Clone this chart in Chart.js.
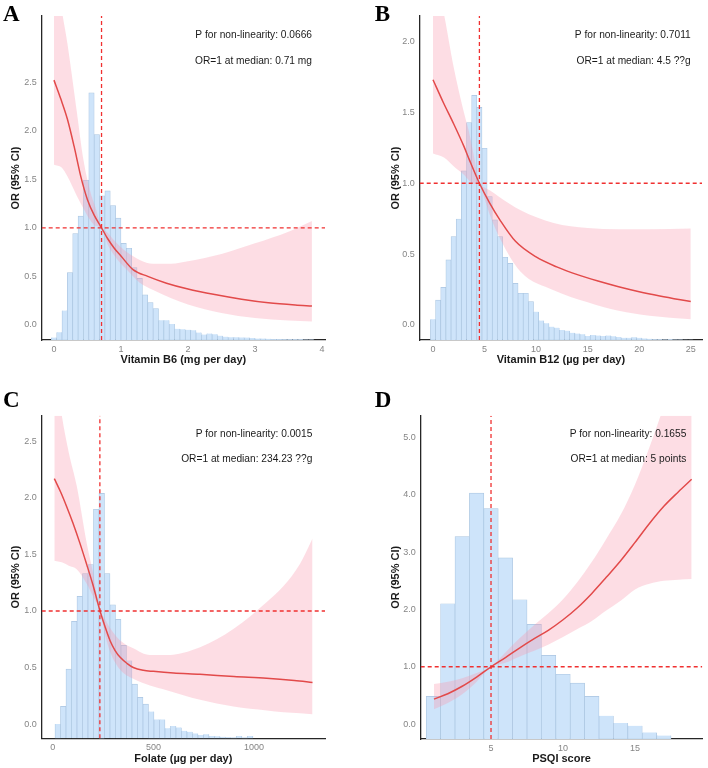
<!DOCTYPE html>
<html><head><meta charset="utf-8">
<script src="https://cdn.jsdelivr.net/npm/chart.js@4.4.0/dist/chart.umd.min.js"></script>
<style>
html,body{margin:0;padding:0;background:#fff;}
#wrap{position:relative;width:708px;height:768px;overflow:hidden;}
canvas{position:absolute;}
</style></head><body>
<div id="wrap">
<canvas id="cA" width="354" height="384" style="left:0;top:0;width:354px;height:384px"></canvas>
<canvas id="cB" width="354" height="384" style="left:354px;top:0;width:354px;height:384px"></canvas>
<canvas id="cC" width="354" height="384" style="left:0;top:384px;width:354px;height:384px"></canvas>
<canvas id="cD" width="354" height="384" style="left:354px;top:384px;width:354px;height:384px"></canvas>
</div>
<script>
// ---------- Panel A: Vitamin B6 ----------
const a_histStart = -0.04, a_histWidth = 0.08;
const a_hist = [-0.13,-0.075,0.148,0.54,0.94,1.12,1.49,2.39,1.96,1.33,1.38,1.23,1.10,0.84,0.79,0.59,0.48,0.31,0.23,0.17,0.05,0.05,0.01,-0.04,-0.045,-0.05,-0.055,-0.077,-0.098,-0.088,-0.095,-0.11,-0.12,-0.125,-0.125,-0.128,-0.13,-0.135,-0.14,-0.14,-0.142,-0.145,-0.145,-0.147,-0.147,-0.148,-0.148,-0.149,-0.149];
const a_curveX = [0,0.1,0.2,0.3,0.4,0.5,0.6,0.71,0.8,0.9,1.0,1.18,1.4,1.68,2.0,2.4,2.8,3.2,3.6,3.85];
const a_curveY = [2.52,2.33,2.12,1.84,1.53,1.29,1.13,1.0,0.89,0.79,0.71,0.57,0.5,0.43,0.37,0.313,0.265,0.228,0.205,0.195];
const a_bandX = [0,0.115,0.2,0.34,0.44,0.54,0.62,0.71,0.8,0.885,1.0,1.085,1.28,1.48,1.75,2.0,2.5,3.0,3.5,3.85];
const a_upper = [3.85,3.25,2.9,2.2,1.7,1.38,1.21,1.0,0.95,0.88,0.8,0.75,0.67,0.63,0.63,0.655,0.73,0.84,0.96,1.07];
const a_lower = [1.65,1.62,1.53,1.33,1.2,1.08,1.02,1.0,0.83,0.73,0.63,0.57,0.435,0.36,0.275,0.21,0.123,0.071,0.046,0.036];
const a_xTicks = [0,1,2,3,4];
const a_yTicks = [0,0.5,1,1.5,2,2.5];

// ---------- Panel B: Vitamin B12 ----------
const b_histStart = -0.25, b_histWidth = 0.5;
const b_hist = [0.04,0.176,0.266,0.459,0.624,0.748,1.087,1.428,1.62,1.536,1.247,0.906,0.741,0.624,0.478,0.435,0.294,0.224,0.224,0.165,0.094,0.031,0.012,-0.012,-0.019,-0.035,-0.04,-0.055,-0.06,-0.065,-0.078,-0.07,-0.074,-0.078,-0.074,-0.08,-0.085,-0.09,-0.09,-0.087,-0.09,-0.095,-0.098,-0.1,-0.1,-0.102,-0.1,-0.103,-0.103,-0.104,-0.104];
const b_curveX = [0,1,2,3,3.5,4.5,5.5,6.5,8,10,12,14,16,18,20,22,25];
const b_curveY = [1.73,1.57,1.42,1.26,1.17,1.0,0.86,0.74,0.59,0.48,0.41,0.355,0.31,0.27,0.235,0.205,0.165];
const b_bandX = [0,1.1,2,3,3.5,4,4.5,5,5.5,6.5,8.5,11.7,15,18,21,25];
const b_upper = [2.55,2.18,1.82,1.5,1.36,1.18,1.0,0.97,0.95,0.9,0.81,0.72,0.685,0.675,0.675,0.68];
const b_lower = [1.21,1.18,1.12,1.06,1.02,0.995,1.0,0.89,0.78,0.61,0.375,0.245,0.16,0.1,0.065,0.04];
const b_xTicks = [0,5,10,15,20,25];
const b_yTicks = [0,0.5,1,1.5,2];

// ---------- Panel C: Folate ----------
const c_histStart = 11.4, c_histWidth = 27.3;
const c_hist = [0.0,0.156,0.486,0.908,1.13,1.33,1.41,1.90,2.04,1.33,1.055,0.926,0.696,0.56,0.354,0.236,0.177,0.11,0.041,0.041,-0.038,-0.018,-0.03,-0.06,-0.068,-0.083,-0.097,-0.09,-0.105,-0.108,-0.113,-0.116,-0.118,-0.105,-0.118,-0.105];
const c_curveX = [8,40,70,100,135,169,200,235,260,285,310,335,370,400,450,500,600,731,900,1062,1200,1290];
const c_curveY = [2.17,2.05,1.92,1.78,1.6,1.41,1.23,1.0,0.86,0.737,0.65,0.59,0.535,0.5,0.475,0.466,0.452,0.44,0.42,0.405,0.385,0.368];
const c_bandX = [8,45,80,119,169,200,235,260,285,335,400,483,566,732,897,1063,1146,1229,1290];
const c_upper = [3.2,2.73,2.4,2.11,1.6,1.34,1.0,0.93,0.85,0.74,0.67,0.61,0.61,0.68,0.84,1.08,1.22,1.42,1.64];
const c_lower = [1.445,1.43,1.4,1.37,1.24,1.13,1.0,0.79,0.64,0.48,0.4,0.34,0.3,0.215,0.155,0.12,0.105,0.095,0.086];
const c_xTicks = [0,500,1000];
const c_yTicks = [0,0.5,1,1.5,2,2.5];

// ---------- Panel D: PSQI score ----------
const d_histStart = 0.5, d_histWidth = 1;
const d_hist = [0.483,2.10,3.27,4.03,3.76,2.90,2.17,1.74,1.20,0.87,0.715,0.483,0.145,0.017,-0.03,-0.145,-0.20];
const d_curveX = [1.04,2,3,4,5,6,7,8,9,10,11,12,13,14,15,16,17,18,18.93];
const d_curveY = [0.436,0.53,0.66,0.82,1.0,1.16,1.33,1.49,1.64,1.82,2.03,2.28,2.56,2.85,3.17,3.5,3.8,4.05,4.27];
const d_bandX = [1.04,2,3,4,5,6,7,8,9,10,11,12,13,14,15,16,17,18,18.93];
const d_upper = [0.70,0.74,0.8,0.89,1.0,1.25,1.5,1.73,1.94,2.18,2.48,2.83,3.23,3.65,4.18,4.83,5.55,6.36,7.2];
const d_lower = [0.26,0.37,0.52,0.74,1.0,1.07,1.18,1.28,1.39,1.52,1.66,1.8,1.98,2.15,2.35,2.45,2.5,2.52,2.53];
const d_xTicks = [5,10,15];
const d_yTicks = [0,1,2,3,4,5];

// ---------- styling ----------
Chart.defaults.font.family = '"Liberation Sans", Arial, sans-serif';
const RED = 'rgb(226,74,74)';
const DASH = 'rgb(240,48,48)';
const PINK = 'rgba(250,150,170,0.32)';
const BAR = 'rgb(206,228,250)';
const BARB = 'rgb(170,197,224)';
const TICK = '#858585';
const AXIS = '#262626';

function centers(start, width, n){ const out=[]; for(let i=0;i<n;i++) out.push(start + width*(i+0.5)); return out; }
function pts(xs, ys){ return xs.map((x,i)=>({x:x, y:ys[i]})); }

function makePanel(p){
  const canvas = document.getElementById(p.id);
  const W = canvas.width, H = canvas.height;
  const xBottom = p.xTitleY + 6.6;
  const histX = centers(p.histStart, p.histWidth, p.hist.length);
  const datasets = [
    {type:'line', order:0, data:[{x:p.median,y:p.yMin},{x:p.median,y:p.yMax}], borderColor:DASH, borderWidth:1.3, borderDash:[4,3], pointRadius:0, fill:false},
    {type:'line', order:1, data:[{x:p.xMin,y:1},{x:p.xMax,y:1}], borderColor:DASH, borderWidth:1.3, borderDash:[4,3], pointRadius:0, fill:false},
    {type:'line', order:2, data:pts(p.curveX,p.curveY), borderColor:RED, borderWidth:1.5, pointRadius:0, cubicInterpolationMode:'monotone', fill:false},
    {type:'line', order:3, data:pts(p.bandX,p.upper), borderColor:'rgba(0,0,0,0)', borderWidth:0, pointRadius:0, cubicInterpolationMode:'monotone', fill:'+1', backgroundColor:PINK},
    {type:'line', order:4, data:pts(p.bandX,p.lower), borderColor:'rgba(0,0,0,0)', borderWidth:0, pointRadius:0, cubicInterpolationMode:'monotone', fill:false},
    {type:'bar', order:10, data:histX.map((x,i)=>({x:x, y:[p.yMin, p.hist[i]]})), backgroundColor:BAR, borderColor:BARB, borderWidth:0.7, borderSkipped:'start', barPercentage:1, categoryPercentage:1, grouped:false}
  ];
  const notes = {
    id:'notes',
    afterDraw(chart){
      const ctx = chart.ctx;
      ctx.save();
      ctx.fillStyle = '#1a1a1a';
      ctx.font = '10.2px "Liberation Sans", Arial, sans-serif';
      ctx.textAlign = 'right';
      ctx.textBaseline = 'alphabetic';
      ctx.fillText(p.note1, p.noteX, p.note1Y);
      ctx.fillText(p.note2, p.noteX, p.note2Y);
      ctx.font = 'bold 23px "Liberation Serif", "Times New Roman", serif';
      ctx.textAlign = 'left';
      ctx.fillStyle = '#000';
      ctx.fillText(p.letter, p.letterX, p.letterY);
      ctx.restore();
    }
  };
  new Chart(canvas, {
    type:'bar',
    data:{datasets:datasets},
    options:{
      responsive:false, animation:false, devicePixelRatio:1,
      layout:{padding:{left:0, top:p.plot.t, right:W - p.plot.r, bottom:H - xBottom}},
      plugins:{legend:{display:false}, tooltip:{enabled:false}, filler:{drawTime:'beforeDatasetDraw'}},
      scales:{
        x:{type:'linear', min:p.xMin, max:p.xMax, offset:false,
          grid:{display:false, drawTicks:false},
          border:{display:true, color:AXIS, width:1.3},
          ticks:{color:TICK, font:{size:9}, padding:4, maxRotation:0, autoSkip:false, callback:(v)=>String(v)},
          afterBuildTicks:(s)=>{ s.ticks = p.xTicks.map(v=>({value:v})); },
          afterFit:(s)=>{ s.height = xBottom - p.plot.b; },
          title:{display:true, text:p.xTitle, color:'#1a1a1a', font:{size:11, weight:'bold'}, padding:{top:0, bottom:0}}
        },
        y:{type:'linear', min:p.yMin, max:p.yMax,
          grid:{display:false, drawTicks:false},
          border:{display:true, color:AXIS, width:1.3},
          ticks:{color:TICK, font:{size:9}, padding:5, autoSkip:false, callback:(v)=>Number(v).toFixed(1)},
          afterBuildTicks:(s)=>{ s.ticks = p.yTicks.map(v=>({value:v})); },
          afterFit:(s)=>{ s.width = p.plot.l; },
          title:{display:true, text:'OR (95% CI)', color:'#1a1a1a', font:{size:11, weight:'bold'}, padding:{top:p.yTitleX - 6.6, bottom:0}}
        }
      }
    },
    plugins:[notes]
  });
}

makePanel({id:'cA', letter:'A', letterX:3, letterY:21,
  plot:{l:41.7, t:16, r:325, b:340}, yTitleX:16, xTitleY:360,
  xMin:-0.183, xMax:4.045, yMin:-0.1545, yMax:3.18, median:0.71,
  histStart:a_histStart, histWidth:a_histWidth, hist:a_hist,
  curveX:a_curveX, curveY:a_curveY, bandX:a_bandX, upper:a_upper, lower:a_lower,
  xTicks:a_xTicks, yTicks:a_yTicks, xTitle:'Vitamin B6 (mg per day)',
  note1:'P for non-linearity: 0.0666', note2:'OR=1 at median: 0.71 mg', noteX:312, note1Y:37.7, note2Y:63.5});

makePanel({id:'cB', letter:'B', letterX:20.7, letterY:21,
  plot:{l:65.7, t:16, r:348, b:340}, yTitleX:41.7, xTitleY:360,
  xMin:-1.29, xMax:26.09, yMin:-0.106, yMax:2.18, median:4.5,
  histStart:b_histStart, histWidth:b_histWidth, hist:b_hist,
  curveX:b_curveX, curveY:b_curveY, bandX:b_bandX, upper:b_upper, lower:b_lower,
  xTicks:b_xTicks, yTicks:b_yTicks, xTitle:'Vitamin B12 (\u00b5g per day)',
  note1:'P for non-linearity: 0.7011', note2:'OR=1 at median: 4.5 ??g', noteX:336.7, note1Y:37.7, note2Y:64});

makePanel({id:'cC', letter:'C', letterX:3, letterY:23,
  plot:{l:41.7, t:31.7, r:325, b:354.3}, yTitleX:16, xTitleY:375,
  xMin:-54.6, xMax:1352, yMin:-0.126, yMax:2.727, median:234.23,
  histStart:c_histStart, histWidth:c_histWidth, hist:c_hist,
  curveX:c_curveX, curveY:c_curveY, bandX:c_bandX, upper:c_upper, lower:c_lower,
  xTicks:c_xTicks, yTicks:c_yTicks, xTitle:'Folate (\u00b5g per day)',
  note1:'P for non-linearity: 0.0015', note2:'OR=1 at median: 234.23 ??g', noteX:312.3, note1Y:53.3, note2Y:78.3});

makePanel({id:'cD', letter:'D', letterX:20.7, letterY:23,
  plot:{l:66.7, t:31.7, r:348.3, b:355}, yTitleX:41.7, xTitleY:375,
  xMin:0.118, xMax:19.67, yMin:-0.26, yMax:5.38, median:5,
  histStart:d_histStart, histWidth:d_histWidth, hist:d_hist,
  curveX:d_curveX, curveY:d_curveY, bandX:d_bandX, upper:d_upper, lower:d_lower,
  xTicks:d_xTicks, yTicks:d_yTicks, xTitle:'PSQI score',
  note1:'P for non-linearity: 0.1655', note2:'OR=1 at median: 5 points', noteX:332.3, note1Y:53.3, note2Y:78.3});
</script>
</body></html>
